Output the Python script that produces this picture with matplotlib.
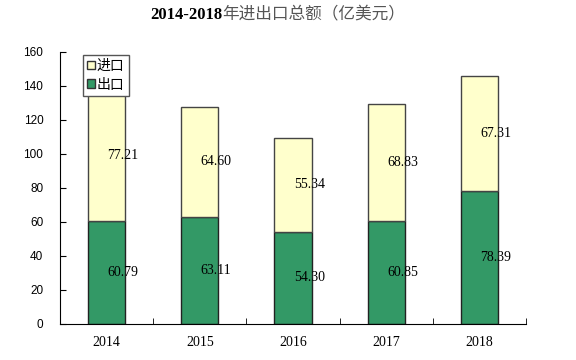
import numpy as np
import matplotlib.pyplot as plt
from matplotlib.patches import Patch

years = ["2014", "2015", "2016", "2017", "2018"]
export = [60.79, 63.11, 54.30, 60.85, 78.39]  # 出口
imports = [77.21, 64.60, 55.34, 68.83, 67.31]  # 进口

green = "#339966"
yellow = "#FFFFCC"
serif = ["Liberation Serif", "Noto Sans CJK SC"]
cjk = ["Noto Sans CJK SC", "DejaVu Sans"]

fig = plt.figure(figsize=(5.76, 3.6), dpi=100)
ax = fig.add_axes([60/576, 1-324/360, 466/576, 272/360])

x = np.arange(len(years))
w = 0.4
ax.bar(x, export, w, color=green, edgecolor="#222222", linewidth=1, zorder=2)
ax.bar(x, imports, w, bottom=export, color=yellow, edgecolor="#444444", linewidth=1, zorder=2)

for i in range(len(years)):
    ax.text(x[i] + 0.01, export[i]/2, "%.2f" % export[i], ha="left", va="center",
            fontsize=10, family=serif, zorder=3)
    ax.text(x[i] + 0.01, export[i] + imports[i]/2, "%.2f" % imports[i], ha="left",
            va="center", fontsize=10, family=serif, zorder=3)

ax.set_xlim(-0.5, 4.5)
ax.set_ylim(0, 160)
ax.set_yticks(np.arange(0, 161, 20))
ax.tick_params(axis="y", direction="in", length=4, labelsize=8.5, pad=12)
for t in ax.get_yticklabels():
    t.set_family("Liberation Sans")
ax.set_xticks(x)
ax.set_xticklabels(years, family=serif, fontsize=10)
ax.tick_params(axis="x", length=0, pad=9)
ax.set_xticks(np.arange(-0.5, 4.6, 1), minor=True)
ax.tick_params(axis="x", which="minor", direction="in", length=4)

for s in ["top", "right"]:
    ax.spines[s].set_visible(False)
ax.spines["left"].set_color("black")
ax.spines["bottom"].set_color("black")

handles = [Patch(facecolor=yellow, edgecolor="#333333", label="进口"),
           Patch(facecolor=green, edgecolor="#333333", label="出口")]
leg = ax.legend(handles=handles, loc="upper left", bbox_to_anchor=(0.049, 0.99),
                prop={"family": cjk, "size": 10}, handlelength=0.6, handleheight=0.6,
                handletextpad=0.1, borderpad=0.3, labelspacing=0.35, fancybox=False,
                framealpha=1, borderaxespad=0)
leg.get_frame().set_edgecolor("#555555")
leg.get_frame().set_linewidth(1)

fig.text(222/576, 1-15/360, "2014-2018", ha="right", va="center", fontsize=12,
         fontweight="bold", family="Liberation Serif")
fig.text(222/576, 1-15/360, "年进出口总额（亿美元）", ha="left", va="center",
         fontsize=12, color="#555555", family=cjk)

fig.savefig("out.png", dpi=100)
